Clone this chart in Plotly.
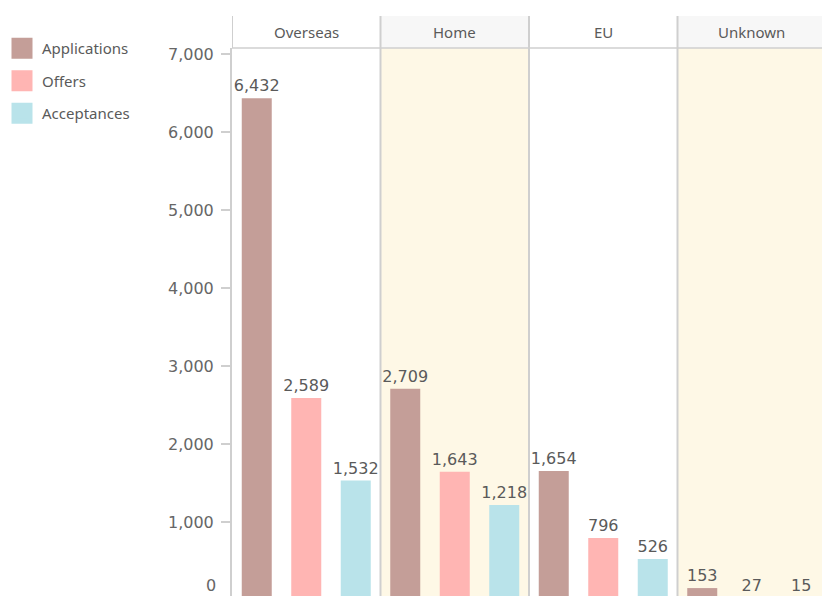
import plotly.graph_objects as go

regions = ["Overseas", "Home", "EU", "Unknown"]
measures = ["Applications", "Offers", "Acceptances"]
applications = [6432, 2709, 1654, 153]
offers = [2589, 1643, 796, 27]
acceptances = [1532, 1218, 526, 15]
values = {"Applications": applications, "Offers": offers, "Acceptances": acceptances}
colors = {"Applications": "#c49e98", "Offers": "#ffb5b3", "Acceptances": "#b9e3ea"}
y_ticks = [1000, 2000, 3000, 4000, 5000, 6000, 7000]

FONT = "Noto Sans"
NUMFONT = "DejaVu Sans"
TXT = "#5a5a5a"
LINE = "#cfcfcf"
W, H = 826, 600          # slightly larger than the 822x596 window: right/bottom edge cropped like the reference
ML, MT = 232, 48
PH = H - MT
HEAD = 32 / PH

cats = [f"{r}|{m}" for r in regions for m in measures]

fig = go.Figure()
for m in measures:
    fig.add_trace(go.Bar(
        x=[f"{r}|{m}" for r in regions], y=values[m], name=m,
        marker=dict(color=colors[m], line=dict(width=0)),
        texttemplate="%{y:,}", textposition="outside", cliponaxis=False,
        constraintext="none",
        textfont=dict(family=NUMFONT, size=16, color=TXT),
        showlegend=False, legendgroup=m,
    ))
for m in measures:
    fig.add_trace(go.Scatter(
        x=[None], y=[None], mode="markers", name=m, legendgroup=m,
        marker=dict(symbol="square", size=16, color=colors[m],
                    line=dict(color=colors[m], width=5)),
        hoverinfo="skip",
    ))

shapes = []
for i, r in enumerate(regions):
    x0, x1 = 3 * i - 0.5, 3 * i + 2.5
    if i % 2 == 1:
        shapes.append(dict(type="rect", xref="x", yref="paper", x0=x0, x1=x1, y0=0, y1=1,
                           fillcolor="#fef8e6", line=dict(width=0), layer="below"))
    shapes.append(dict(type="rect", xref="x", yref="paper", x0=x0, x1=x1, y0=1, y1=1 + HEAD,
                       fillcolor="#f7f7f7" if i % 2 == 1 else "#ffffff",
                       line=dict(width=0), layer="below"))
shapes.append(dict(type="line", xref="paper", yref="paper", x0=0, x1=1, y0=1, y1=1,
                   line=dict(color=LINE, width=1.5), layer="above"))
for i in range(len(regions)):
    shapes.append(dict(type="line", xref="x", yref="paper", x0=3 * i - 0.5, x1=3 * i - 0.5,
                       y0=0 if i else 1, y1=1 + HEAD, line=dict(color=LINE, width=2), layer="above"))

annotations = []
for i, r in enumerate(regions):
    annotations.append(dict(text=r, xref="x", yref="paper", x=3 * i + 1, y=1 + HEAD / 2,
                            showarrow=False, font=dict(family=FONT, size=15, color=TXT),
                            xanchor="center", yanchor="middle"))
annotations.append(dict(text="0", xref="paper", yref="paper", x=-15 / (W - ML), y=1 - (585 - MT) / PH,
                        showarrow=False, xanchor="right", yanchor="middle", borderpad=0,
                        font=dict(family=NUMFONT, size=16, color="#666666")))

fig.update_layout(
    width=W, height=H,
    margin=dict(l=ML, r=0, t=MT, b=0, pad=0),
    paper_bgcolor="white", plot_bgcolor="white",
    barmode="overlay", bargap=0.394,
    font=dict(family=FONT, color=TXT),
    shapes=shapes, annotations=annotations,
    legend=dict(x=-(ML - 2) / (W - ML), xanchor="left", y=1 + 16 / PH, yanchor="top",
                font=dict(family=FONT, size=15, color=TXT), tracegroupgap=10,
                traceorder="grouped", bgcolor="rgba(0,0,0,0)", itemclick=False),
    xaxis=dict(type="category", categoryorder="array", categoryarray=cats,
               range=[-0.5, 11.5], showticklabels=False, ticks="", showgrid=False,
               zeroline=False, showline=False),
    yaxis=dict(range=[0, 7077], tickvals=y_ticks, tickformat=",d", showgrid=False,
               zeroline=False, showline=True, linecolor=LINE, linewidth=2,
               ticks="outside", ticklen=9, tickcolor=LINE, tickwidth=1.5,
               ticklabelstandoff=4,
               tickfont=dict(family=NUMFONT, size=16, color="#666666")),
)

fig.write_html(
    "out.html",
    config={"displayModeBar": False},
    post_script="document.body.style.margin='0';document.body.style.overflow='hidden';"
                "document.documentElement.style.overflow='hidden';",
)
